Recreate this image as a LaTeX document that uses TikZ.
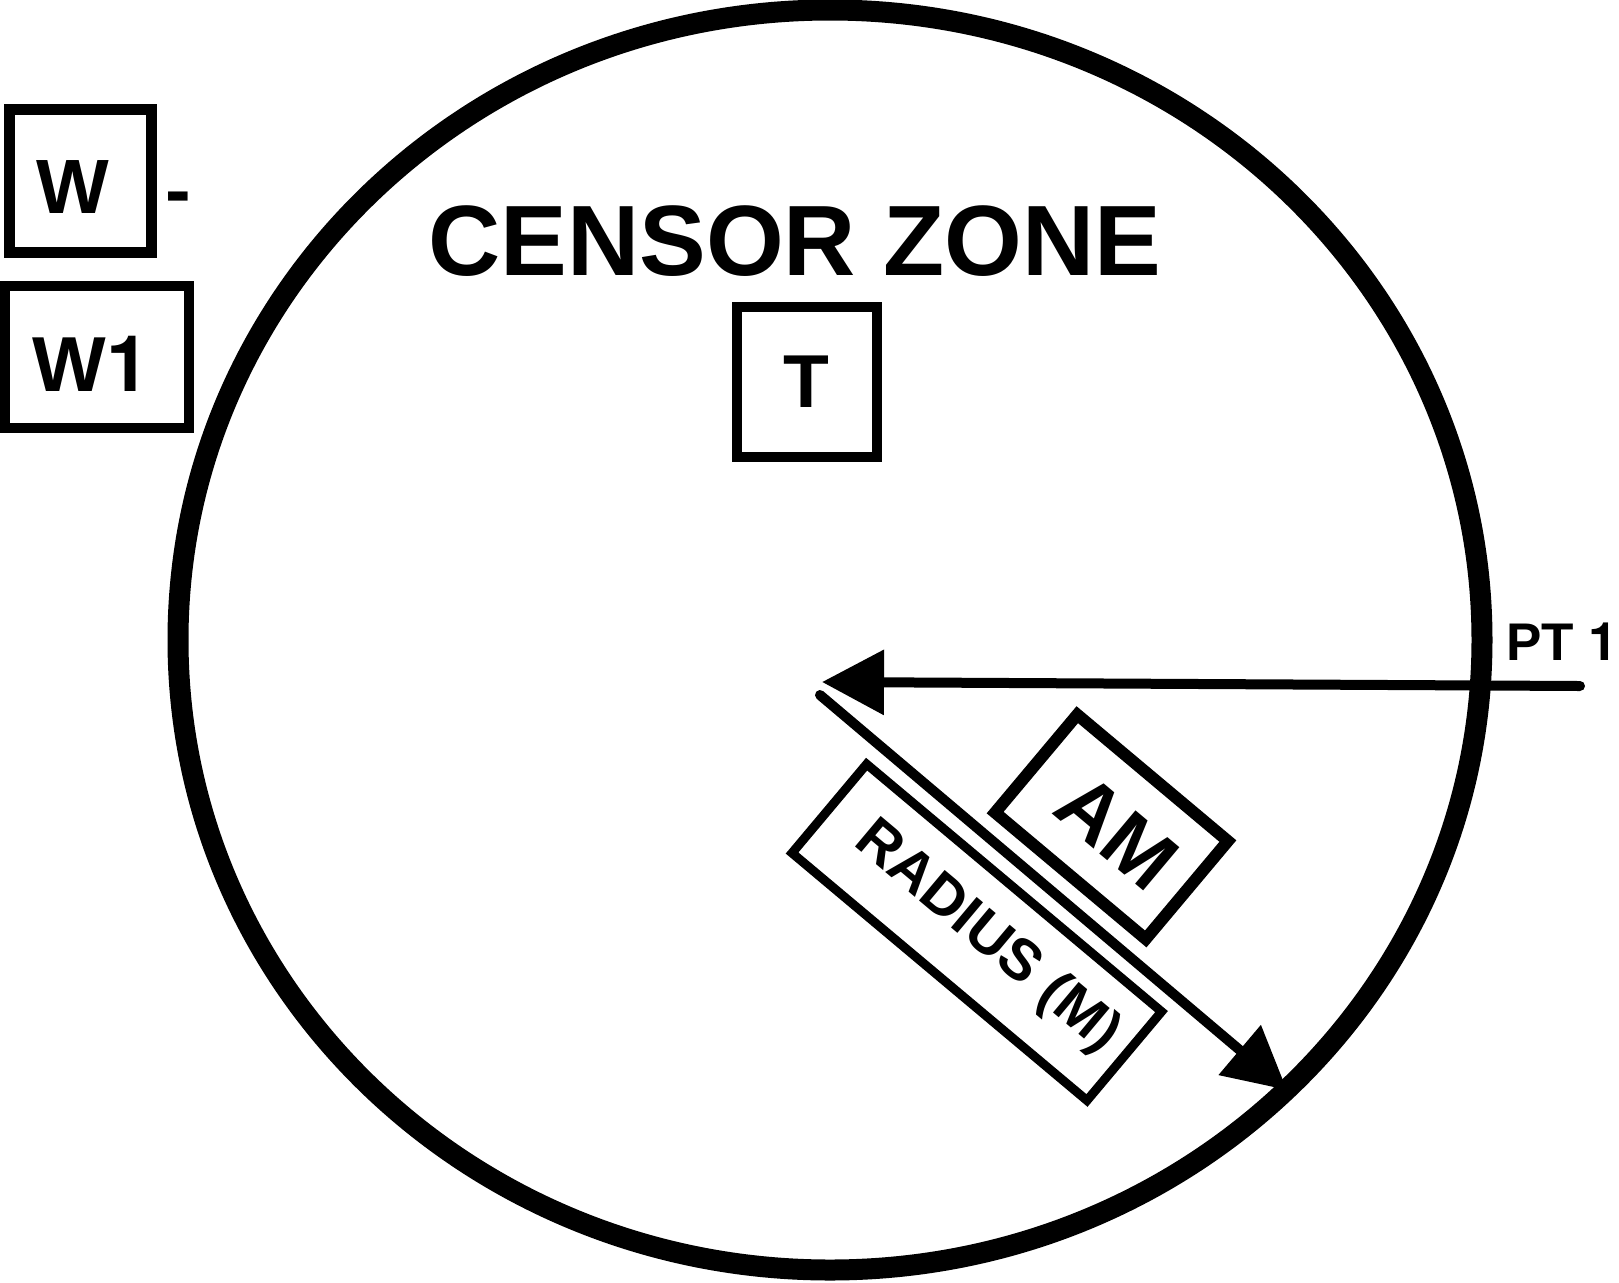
\documentclass[tikz,border=0pt]{standalone}
\usepackage{fontspec}
\setmainfont{Liberation Sans}
\newfontfamily\heros{TeX Gyre Heros}
\usetikzlibrary{arrows.meta}
\begin{document}
\begin{tikzpicture}[x=0.5pt,y=-0.5pt,
  big/.style={font=\bfseries\fontsize{50pt}{60pt}\selectfont, inner sep=0},
  txt/.style={font=\bfseries\fontsize{#1}{45pt}\selectfont, inner sep=0},
  box/.style={draw, rectangle, inner sep=0},
  zone/.style={line width=10.5pt},
  conn/.style={line width=5pt, line cap=round},
  tri/.style={-{Triangle[length=31pt,width=31.5pt]}}]
\useasboundingbox (0,0) rectangle (1619,1282);
% zone boundary
\draw[zone] (830,640) ellipse [x radius=326pt, y radius=315pt];
% title
\node[big] (title) at (795,241) {CENSOR ZONE};
% boxes
\node[box, line width=5.5pt, minimum width=71pt, minimum height=71.5pt] (w) at (80.5,180.5) {};
\node[txt=38.5pt] (wtext) at (73,187.5) {W};
\node[txt=38.5pt, anchor=base] (dash) at (178,216) {-};
\node[box, line width=5pt, minimum width=92pt, minimum height=71pt] (w1) at (97,357) {};
\node[txt=39pt] (w1text) at (91,363.5) {W{\heros\bfseries 1}};
\node[box, line width=5pt, minimum width=70pt, minimum height=75pt] (t) at (807,382) {};
\node[txt=37.5pt] (ttext) at (806.5,382) {T};
\node[box, line width=6pt, minimum width=98.3pt, minimum height=63.9pt, rotate=-40] (am) at (1111.5,826.8) {};
\node[txt=41pt, rotate=-40] (amtext) at (1117.5,832) {AM};
\node[box, line width=4.5pt, minimum width=192.5pt, minimum height=58pt, rotate=-40] (rad) at (976.8,932.3) {};
\node[txt=29pt, rotate=-40] (radtext) at (987,938) {RADIUS (M)};
\node[txt=26.5pt] (pt1) at (1562,642) {PT {\heros\bfseries 1}};
% connectors
\coordinate (hstart) at (1580,686);
\coordinate (htip) at (822,682);
\coordinate (dstart) at (820,695);
\coordinate (dtip) at (1287,1090);
\draw[conn, tri] (hstart) -- (htip);
\draw[conn, tri] (dstart) -- (dtip);
\end{tikzpicture}
\end{document}
